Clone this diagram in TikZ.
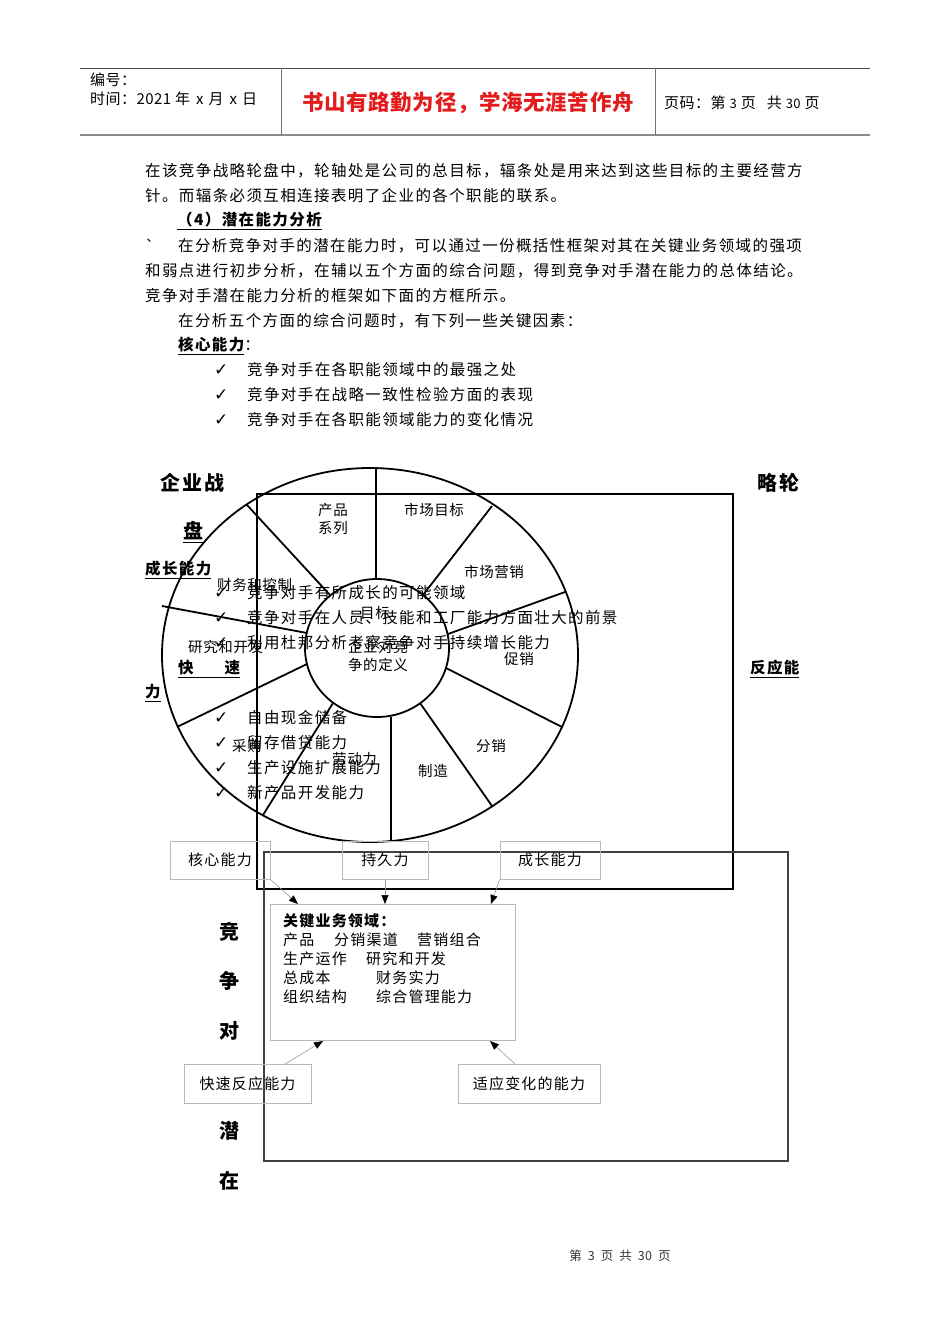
\documentclass[tikz,border=0pt]{standalone}
\usepackage{fontspec}
\setmainfont{Noto Sans CJK SC}
\newfontfamily\bodyf[LetterSpace=9]{Noto Sans CJK SC}
\newfontfamily\keyf[LetterSpace=8]{Noto Sans CJK SC}
\newfontfamily\wheelf[LetterSpace=4]{Noto Sans CJK SC}
\newfontfamily\bigf[LetterSpace=10]{Noto Sans CJK SC}
\newfontfamily\hdrf[LetterSpace=3]{Noto Sans CJK SC}
\newfontfamily\symf{DejaVu Sans}
\usetikzlibrary{arrows.meta}
\definecolor{titlered}{RGB}{226,28,28}
\tikzset{
  body/.style={anchor=west,inner sep=0pt,font={\fontsize{15.5}{18}\bodyf}},
  bodyb/.style={anchor=west,inner sep=0pt,font={\fontsize{15.5}{18}\bodyf\bfseries}},
  chk/.style={anchor=west,inner sep=0pt,font={\fontsize{17}{19}\symf}},
  wl/.style={anchor=west,inner sep=0pt,font={\fontsize{14.5}{17}\wheelf}},
  wlc/.style={anchor=center,inner sep=0pt,font={\fontsize{14.5}{17}\wheelf}},
  big/.style={anchor=west,inner sep=0pt,font={\fontsize{20}{22}\bigf\bfseries}},
  keyt/.style={anchor=west,inner sep=0pt,font={\fontsize{15}{17}\keyf}},
  hdr/.style={anchor=west,inner sep=0pt,font={\fontsize{15}{17}\hdrf}},
  wheelline/.style={line width=1.8pt,black},
  framebox/.style={line width=2.6pt,black},
  thinframe/.style={line width=1.3pt,black!75},
  gbox/.style={draw=black!28,line width=0.8pt,inner sep=0pt,minimum height=38pt,font={\fontsize{15}{17}\keyf}},
  arr/.style={draw=black!40,line width=0.6pt,-{Triangle[length=9pt,width=7pt,color=black]}}
}
\begin{document}
\begin{tikzpicture}[x=1pt,y=-1pt]
\useasboundingbox (0,0) rectangle (950,1344);
% ---------------- header ----------------
\draw[black!70,line width=1pt] (80,68) -- (870,68);
\draw[black!45,line width=2pt] (80,135) -- (870,135);
\draw[black!55,line width=1pt] (281,68) -- (281,135);
\draw[black!55,line width=1pt] (655,68) -- (655,135);
\node[hdr] (h1) at (90,80) {编号：};
\node[hdr] (h2) at (90,99) {时间：2021\hspace{4pt}年\hspace{6pt}x\hspace{5pt}月\hspace{6pt}x\hspace{5pt}日};
\node[inner sep=0pt,font={\fontsize{21.5}{24}\hdrf\bfseries},text=titlered] (h3) at (468,103) {书山有路勤为径，学海无涯苦作舟};
\node[hdr] (h4) at (664,103) {页码：第\hspace{4pt}{\fontsize{13}{14}\selectfont 3}\hspace{4pt}页\hspace{11pt}共\hspace{4pt}{\fontsize{13}{14}\selectfont 30}\hspace{4pt}页};
% ---------------- body text ----------------
\node[body] (p1) at (145,171) {在该竞争战略轮盘中，轮轴处是公司的总目标，辐条处是用来达到这些目标的主要经营方};
\node[body] (p2) at (145,196) {针。而辐条必须互相连接表明了企业的各个职能的联系。};
\node[bodyb] (p3) at (177,221) {\underline{（4）潜在能力分析}};
\node[body] (p4a) at (145,246) {\textasciigrave};
\node[body] (p4) at (178,246) {在分析竞争对手的潜在能力时，可以通过一份概括性框架对其在关键业务领域的强项};
\node[body] (p5) at (145,271) {和弱点进行初步分析，在辅以五个方面的综合问题，得到竞争对手潜在能力的总体结论。};
\node[body] (p6) at (145,296) {竞争对手潜在能力分析的框架如下面的方框所示。};
\node[body] (p7) at (178,321) {在分析五个方面的综合问题时，有下列一些关键因素：};
\node[body] (p8) at (178,346) {{\bfseries\underline{核心能力}}：};
\node[chk] (c1) at (214,370) {✓};
\node[body] (b1) at (247,370) {竞争对手在各职能领域中的最强之处};
\node[chk] (c2) at (214,395) {✓};
\node[body] (b2) at (247,395) {竞争对手在战略一致性检验方面的表现};
\node[chk] (c3) at (214,420) {✓};
\node[body] (b3) at (247,420) {竞争对手在各职能领域能力的变化情况};
% ---------------- wheel ----------------
\draw[wheelline] (370,655) ellipse [x radius=208, y radius=187];
\draw[wheelline] (377,648) ellipse [x radius=72, y radius=69];
\draw[wheelline] (376,468) -- (376,579);
\draw[wheelline] (247,505) -- (330,595);
\draw[wheelline] (162,606) -- (307,633);
\draw[wheelline] (492,506) -- (423,595);
\draw[wheelline] (565,592) -- (448,634);
\draw[wheelline] (446,668) -- (562,727);
\draw[wheelline] (420,703) -- (492,806);
\draw[wheelline] (391,717) -- (391,842);
\draw[wheelline] (333,703) -- (263,815);
\draw[wheelline] (307,664) -- (177,727);
% thick frame
\draw[framebox] (257,494) rectangle (733,889);
% wheel labels
\node[wlc] (w1) at (333,510) {产品};
\node[wlc] (w2) at (333,528) {系列};
\node[wl] (w3) at (404,510) {市场目标};
\node[wl] (w4) at (464,572) {市场营销};
\node[wl] (w5) at (217,585) {财务和控制};
\node[wl] (w6) at (360,613) {目标};
\node[wl] (w7) at (188,647) {研究和开发};
\node[wlc] (w8) at (378,647) {企业对竞};
\node[wlc] (w9) at (378,665) {争的定义};
\node[wl] (w10) at (504,659) {促销};
\node[wl] (w11) at (232,746) {采购};
\node[wl] (w12) at (332,759) {劳动力};
\node[wl] (w13) at (418,771) {制造};
\node[wl] (w14) at (476,746) {分销};
% big labels
\node[big] (g1) at (160,483) {企业战};
\node[big] (g2) at (757,483) {略轮};
\node[big] (g3) at (183,532) {\underline{盘}};
\node[bodyb] (g4) at (145,570) {\underline{成长能力}};
\node[chk] (c4) at (214,593) {✓};
\node[body] (b4) at (247,593) {竞争对手有所成长的可能领域};
\node[chk] (c5) at (214,618) {✓};
\node[body] (b5) at (247,618) {竞争对手在人员、技能和工厂能力方面壮大的前景};
\node[chk] (c6) at (214,643) {✓};
\node[body] (b6) at (247,643) {利用杜邦分析考察竞争对手持续增长能力};
\node[bodyb] (g5) at (178,669) {\underline{快\hspace{31pt}速}};
\node[bodyb] (g6) at (750,669) {\underline{反应能}};
\node[bodyb] (g7) at (145,693) {\underline{力}};
\node[chk] (c7) at (214,718) {✓};
\node[body] (b7) at (247,718) {自由现金储备};
\node[chk] (c8) at (214,743) {✓};
\node[body] (b8) at (247,743) {留存借贷能力};
\node[chk] (c9) at (214,768) {✓};
\node[body] (b9) at (247,768) {生产设施扩展能力};
\node[chk] (c10) at (214,793) {✓};
\node[body] (b10) at (247,793) {新产品开发能力};
% ---------------- lower framework ----------------
\draw[thinframe] (264,852) rectangle (788,1161);
\node[gbox,minimum width=100pt] (core) at (220,860) {核心能力};
\node[gbox,minimum width=86pt] (dur) at (385,860) {持久力};
\node[gbox,minimum width=100pt] (grow) at (550,860) {成长能力};
\node[draw=black!28,line width=0.8pt,minimum width=245pt,minimum height=136pt,inner sep=0pt] (key) at (392.5,972) {};
\node[keyt,font={\fontsize{15}{17}\keyf\bfseries}] (k0) at (283,921) {关键业务领域：};
\node[keyt] (k1a) at (283,940) {产品};
\node[keyt] (k1b) at (334,940) {分销渠道};
\node[keyt] (k1c) at (417,940) {营销组合};
\node[keyt] (k2a) at (283,959) {生产运作};
\node[keyt] (k2b) at (366,959) {研究和开发};
\node[keyt] (k3a) at (283,978) {总成本};
\node[keyt] (k3b) at (376,978) {财务实力};
\node[keyt] (k4a) at (283,997) {组织结构};
\node[keyt] (k4b) at (376,997) {综合管理能力};
\node[gbox,minimum width=127pt,minimum height=39pt] (fast) at (247.5,1083.5) {快速反应能力};
\node[gbox,minimum width=142pt,minimum height=39pt] (adapt) at (529,1083.5) {适应变化的能力};
\coordinate (e1) at (298,904);
\coordinate (e2) at (385,904);
\coordinate (e3) at (491,904);
\coordinate (e4) at (323,1041);
\coordinate (e5) at (490,1041);
\coordinate (s4) at (285,1064);
\coordinate (s5) at (515,1064);
\draw[arr] (core.south east) -- (e1);
\draw[arr] (dur.south) -- (e2);
\draw[arr] (grow.south west) -- (e3);
\draw[arr] (s4) -- (e4);
\draw[arr] (s5) -- (e5);
\node[big] (v1) at (219,932) {竞};
\node[big] (v2) at (219,981) {争};
\node[big] (v3) at (219,1031) {对};
\node[big] (v4) at (219,1131) {潜};
\node[big] (v5) at (219,1181) {在};
% footer
\node[inner sep=0pt,font={\fontsize{12.5}{14}\hdrf},text=black!80] (ft) at (620,1256) {第\hspace{6pt}3\hspace{6pt}页\hspace{6pt}共\hspace{6pt}30\hspace{6pt}页};
\end{tikzpicture}
\end{document}
